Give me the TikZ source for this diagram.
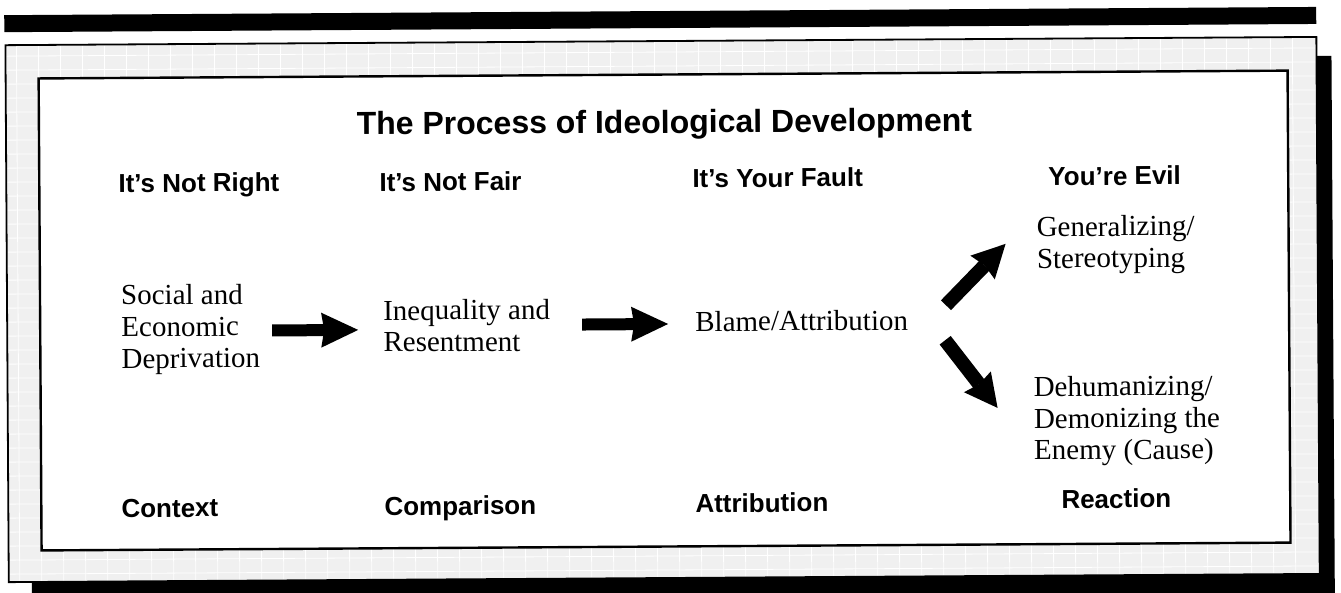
\documentclass[tikz,border=0pt]{standalone}
\usepackage{fontspec}
\setmainfont{Liberation Serif}
\setsansfont{Liberation Sans}
\usetikzlibrary{arrows.meta}
\newcommand{\stk}[1]{\begin{tabular}[t]{@{}l@{}}#1\end{tabular}}
\begin{document}
\begin{tikzpicture}[x=1pt,y=-1pt,
  titletext/.style={font=\sffamily\bfseries\fontsize{32}{38}\selectfont, anchor=base, inner sep=0pt},
  head/.style={font=\sffamily\bfseries\fontsize{26}{30}\selectfont, anchor=base west, inner sep=0pt},
  body/.style={font=\rmfamily\fontsize{29}{31.7}\selectfont, anchor=base west, inner sep=0pt},
  blockarrow/.style={line width=12pt, -{Stealth[length=37pt,width=35pt,inset=3pt,line width=0pt]}},
  diagarrow/.style={line width=14pt, -{Stealth[length=33pt,width=34pt,inset=3pt,line width=0pt]}},
  gridline/.style={white, line width=0.8pt}]
\useasboundingbox (0,0) rectangle (1341,593);
\clip (0,0) rectangle (1341,593);
\fill[white] (0,0) rectangle (1341,593);
\begin{scope}[rotate around={0.36:(670,300)}, transform shape]
  % top bar
  \fill[black] (6,11) rectangle (1318,28);
  % shadow
  \fill[black] (30,60) rectangle (1333,600);
  % frame band
  \fill[black!6] (7,41) rectangle (1318,578);
  \foreach \gx in {18,40,...,1310} {\draw[gridline] (\gx,42) -- (\gx,577);}
  \foreach \gy in {52,66,...,572} {\draw[gridline] (8,\gy) -- (1317,\gy);}
  \draw[black, line width=1.8pt] (7,41) rectangle (1318,578);
  % inner box
  \filldraw[fill=white, draw=black, line width=2.4pt] (40,74.5) rectangle (1289,546.5);

  % title
  \node[titletext] (title) at (665.5,133) {The Process of Ideological Development};
  % headings
  \node[head] (h1) at (119,189) {It’s Not Right};
  \node[head] (h2) at (380,189.5) {It’s Not Fair};
  \node[head] (h3) at (693,187.7) {It’s Your Fault};
  \node[head] (h4) at (1049,187.8) {You’re Evil};
  % bottom labels
  \node[head] (b1) at (120,514) {Context};
  \node[head] (b2) at (383,513.7) {Comparison};
  \node[head] (b3) at (694,512.6) {Attribution};
  \node[head] (b4) at (1060,510.8) {Reaction};
  % body texts
  \node[body] (s1) at (121,301.5) {\stk{Social and\\Economic\\Deprivation}};
  \node[body] (s2) at (383,318.5) {\stk{Inequality and\\Resentment}};
  \node[body] (s3) at (695,331.5) {Blame/Attribution};
  \node[body] (s4) at (1037,238.8) {\stk{Generalizing/\\Stereotyping}};
  \node[body] (s5) at (1033,398.8) {\stk{Dehumanizing/\\Demonizing the\\Enemy (Cause)}};

  % arrow end points
  \coordinate (a1s) at (272,328);
  \coordinate (a1e) at (358,328);
  \coordinate (a2s) at (582,324);
  \coordinate (a2e) at (668,324);
  \coordinate (a3s) at (946,307);
  \coordinate (a3e) at (1006,246);
  \coordinate (a4s) at (945,342);
  \coordinate (a4e) at (997,410);
  \draw[blockarrow] (a1s) -- (a1e);
  \draw[blockarrow] (a2s) -- (a2e);
  \draw[diagarrow] (a3s) -- (a3e);
  \draw[diagarrow] (a4s) -- (a4e);
\end{scope}
\end{tikzpicture}
\end{document}
